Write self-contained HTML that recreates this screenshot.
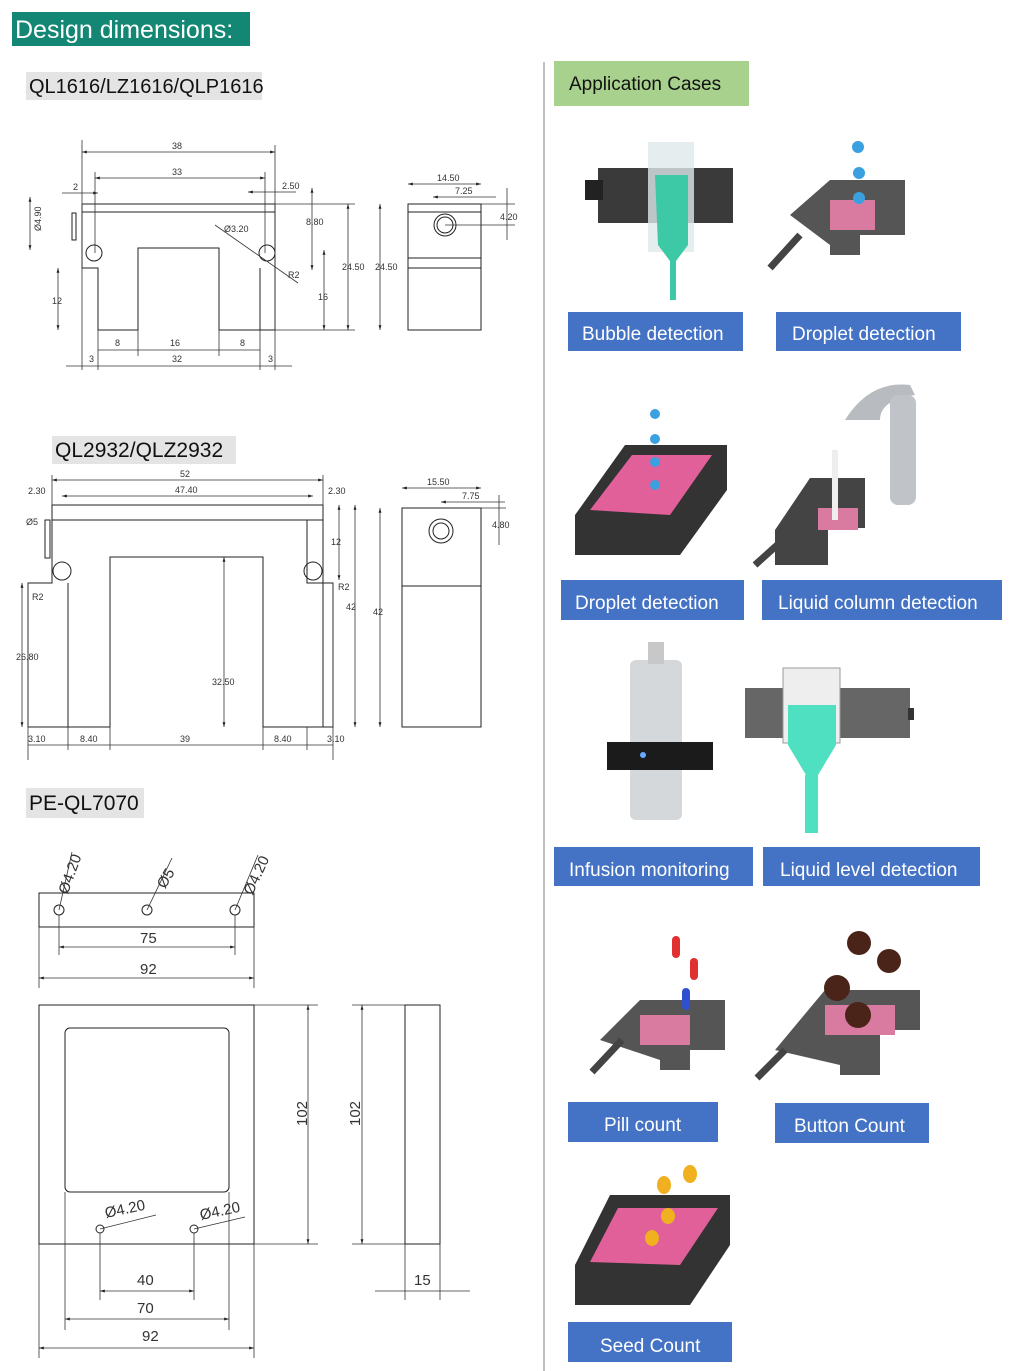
<!DOCTYPE html>
<html><head><meta charset="utf-8">
<style>
body{margin:0;background:#fff;}
svg{display:block;font-family:"Liberation Sans",sans-serif;}
.l{stroke:#222;stroke-width:1;fill:none}
.d{stroke:#333;stroke-width:0.8;fill:none}
.t{font-size:9px;fill:#333}
.t2{font-size:15px;fill:#333}
.lab{font-size:19px;fill:#fff}
</style></head><body>
<svg width="1024" height="1371" viewBox="0 0 1024 1371" xmlns="http://www.w3.org/2000/svg">
<defs><marker id="a" viewBox="0 0 10 10" refX="10" refY="5" markerWidth="6" markerHeight="6" orient="auto-start-reverse"><path d="M0,2L10,5L0,8z" fill="#222"/></marker></defs>
<rect width="1024" height="1371" fill="#fff"/>
<!-- header -->
<rect x="12" y="12" width="238" height="34" fill="#138774"/>
<text x="15" y="38" font-size="25" fill="#fff">Design dimensions:</text>
<rect x="26" y="72" width="236" height="28" fill="#e4e4e4"/>
<text x="29" y="93" font-size="20" fill="#111">QL1616/LZ1616/QLP1616</text>
<rect x="52" y="436" width="184" height="28" fill="#e4e4e4"/>
<text x="55" y="457" font-size="21" fill="#111">QL2932/QLZ2932</text>
<rect x="26" y="788" width="118" height="30" fill="#e4e4e4"/>
<text x="29" y="810" font-size="21" fill="#111">PE-QL7070</text>
<line x1="544" y1="62" x2="544" y2="1371" stroke="#aaa" stroke-width="1.5"/>

<!-- drawing 1 -->
<g>
<path class="l" d="M82,204H275V330H260V268M82,204V268H98V330H138V248H219V330H260M82,212H275M98,330"/>
<circle class="l" cx="94" cy="253" r="8"/><circle class="l" cx="267" cy="253" r="8"/>
<rect class="l" x="72" y="213" width="4" height="27"/>
<line class="d" x1="82" y1="140" x2="82" y2="370"/><line class="d" x1="275" y1="145" x2="275" y2="370"/>
<line class="d" x1="82" y1="152" x2="275" y2="152" marker-start="url(#a)" marker-end="url(#a)"/><text class="t" x="172" y="149">38</text>
<line class="d" x1="95" y1="178" x2="265" y2="178" marker-start="url(#a)" marker-end="url(#a)"/><text class="t" x="172" y="175">33</text>
<line class="d" x1="95" y1="172" x2="95" y2="253"/><line class="d" x1="265" y1="172" x2="265" y2="253"/>
<line class="d" x1="62" y1="193" x2="98" y2="193" marker-end="url(#a)"/><text class="t" x="73" y="190">2</text>
<line class="d" x1="248" y1="192" x2="296" y2="192" marker-start="url(#a)"/><text class="t" x="282" y="189">2.50</text>
<line class="d" x1="30" y1="197" x2="30" y2="250" marker-start="url(#a)" marker-end="url(#a)"/><text class="t" x="20" y="240" transform="rotate(-90 26 225)">Ø4.90</text>
<line class="d" x1="58" y1="268" x2="58" y2="330" marker-start="url(#a)" marker-end="url(#a)"/><text class="t" x="52" y="304">12</text>
<line class="d" x1="312" y1="188" x2="312" y2="270" marker-start="url(#a)" marker-end="url(#a)"/><text class="t" x="306" y="225">8.80</text>
<line class="d" x1="324" y1="250" x2="324" y2="330" marker-start="url(#a)" marker-end="url(#a)"/><text class="t" x="318" y="300">16</text>
<line class="d" x1="348" y1="204" x2="348" y2="330" marker-start="url(#a)" marker-end="url(#a)"/><text class="t" x="342" y="270">24.50</text>
<line class="d" x1="275" y1="204" x2="355" y2="204"/><line class="d" x1="275" y1="330" x2="355" y2="330"/>
<line class="d" x1="215" y1="225" x2="298" y2="283"/><text class="t" x="224" y="232">Ø3.20</text><text class="t" x="288" y="278">R2</text>
<line class="d" x1="98" y1="350" x2="260" y2="350"/><text class="t" x="115" y="346">8</text><text class="t" x="170" y="346">16</text><text class="t" x="240" y="346">8</text>
<line class="d" x1="66" y1="366" x2="292" y2="366"/><text class="t" x="89" y="362">3</text><text class="t" x="172" y="362">32</text><text class="t" x="268" y="362">3</text>
<line class="d" x1="98" y1="330" x2="98" y2="370"/><line class="d" x1="260" y1="330" x2="260" y2="370"/><line class="d" x1="138" y1="330" x2="138" y2="356"/><line class="d" x1="219" y1="330" x2="219" y2="356"/>
<!-- side -->
<rect class="l" x="408" y="204" width="73" height="126"/>
<line class="l" x1="408" y1="212" x2="481" y2="212"/><line class="l" x1="408" y1="258" x2="481" y2="258"/><line class="l" x1="408" y1="268" x2="481" y2="268"/>
<circle class="l" cx="445" cy="225" r="11"/><circle class="l" cx="445" cy="225" r="8"/>
<line class="d" x1="408" y1="184" x2="481" y2="184" marker-start="url(#a)" marker-end="url(#a)"/><text class="t" x="437" y="181">14.50</text>
<line class="d" x1="433" y1="197" x2="496" y2="197" marker-start="url(#a)"/><text class="t" x="455" y="194">7.25</text>
<line class="d" x1="380" y1="204" x2="380" y2="330" marker-start="url(#a)" marker-end="url(#a)"/><text class="t" x="375" y="270">24.50</text>
<line class="d" x1="507" y1="188" x2="507" y2="240"/><text class="t" x="500" y="220">4.20</text>
<line class="d" x1="481" y1="204" x2="515" y2="204"/><line class="d" x1="445" y1="225" x2="515" y2="225"/>
</g>

<!-- drawing 2 -->
<g>
<path class="l" d="M52,505H323V727H333V583H307V520M52,505V583H28V727H68V583M52,520H323M68,727H110V557H263V727H307"/>
<path class="l" d="M307,727H333"/>
<circle class="l" cx="62" cy="571" r="9"/><circle class="l" cx="313" cy="571" r="9"/>
<rect class="l" x="45" y="520" width="5" height="38"/>
<line class="d" x1="52" y1="480" x2="323" y2="480" marker-start="url(#a)" marker-end="url(#a)"/><text class="t" x="180" y="477">52</text>
<line class="d" x1="62" y1="496" x2="313" y2="496" marker-start="url(#a)" marker-end="url(#a)"/><text class="t" x="175" y="493">47.40</text>
<text class="t" x="28" y="494">2.30</text><text class="t" x="328" y="494">2.30</text>
<line class="d" x1="52" y1="475" x2="52" y2="505"/><line class="d" x1="323" y1="475" x2="323" y2="505"/>
<line class="d" x1="28" y1="583" x2="28" y2="760"/><line class="d" x1="333" y1="583" x2="333" y2="760"/>
<line class="d" x1="22" y1="583" x2="22" y2="727" marker-start="url(#a)" marker-end="url(#a)"/><text class="t" x="16" y="660">26.80</text>
<line class="d" x1="224" y1="557" x2="224" y2="727" marker-start="url(#a)" marker-end="url(#a)"/><text class="t" x="212" y="685">32.50</text>
<line class="d" x1="339" y1="505" x2="339" y2="580" marker-start="url(#a)" marker-end="url(#a)"/><text class="t" x="331" y="545">12</text>
<line class="d" x1="355" y1="505" x2="355" y2="727" marker-start="url(#a)" marker-end="url(#a)"/><text class="t" x="346" y="610">42</text>
<text class="t" x="26" y="525">Ø5</text><text class="t" x="32" y="600">R2</text><text class="t" x="338" y="590">R2</text>
<line class="d" x1="28" y1="745" x2="333" y2="745"/>
<text class="t" x="28" y="742">3.10</text><text class="t" x="80" y="742">8.40</text><text class="t" x="180" y="742">39</text><text class="t" x="274" y="742">8.40</text><text class="t" x="327" y="742">3.10</text>
<line class="d" x1="68" y1="727" x2="68" y2="750"/><line class="d" x1="110" y1="727" x2="110" y2="750"/><line class="d" x1="263" y1="727" x2="263" y2="750"/><line class="d" x1="307" y1="727" x2="307" y2="750"/>
<rect class="l" x="402" y="508" width="79" height="219"/>
<line class="l" x1="402" y1="586" x2="481" y2="586"/>
<circle class="l" cx="441" cy="531" r="12"/><circle class="l" cx="441" cy="531" r="8"/>
<line class="d" x1="402" y1="488" x2="481" y2="488" marker-start="url(#a)" marker-end="url(#a)"/><text class="t" x="427" y="485">15.50</text>
<line class="d" x1="441" y1="502" x2="505" y2="502" marker-start="url(#a)"/><text class="t" x="462" y="499">7.75</text>
<line class="d" x1="380" y1="508" x2="380" y2="727" marker-start="url(#a)" marker-end="url(#a)"/><text class="t" x="373" y="615">42</text>
<line class="d" x1="499" y1="495" x2="499" y2="545"/><text class="t" x="492" y="528">4.80</text>
<line class="d" x1="481" y1="508" x2="506" y2="508"/>
</g>

<!-- drawing 3 -->
<g>
<rect class="l" x="39" y="893" width="215" height="34"/>
<circle class="l" cx="59" cy="910" r="5"/><circle class="l" cx="147" cy="910" r="5"/><circle class="l" cx="235" cy="910" r="5"/>
<line class="d" x1="59" y1="910" x2="72" y2="852"/><line class="d" x1="147" y1="910" x2="172" y2="858"/><line class="d" x1="235" y1="910" x2="258" y2="855"/>
<text class="t2" x="46" y="896" transform="rotate(-70 56 880)">Ø4.20</text>
<text class="t2" x="148" y="890" transform="rotate(-60 156 875)">Ø5</text>
<text class="t2" x="232" y="896" transform="rotate(-65 242 880)">Ø4.20</text>
<line class="d" x1="59" y1="915" x2="59" y2="955"/><line class="d" x1="235" y1="915" x2="235" y2="955"/>
<line class="d" x1="59" y1="947" x2="235" y2="947" marker-start="url(#a)" marker-end="url(#a)"/><text class="t2" x="140" y="943">75</text>
<line class="d" x1="39" y1="927" x2="39" y2="988"/><line class="d" x1="254" y1="927" x2="254" y2="988"/>
<line class="d" x1="39" y1="978" x2="254" y2="978" marker-start="url(#a)" marker-end="url(#a)"/><text class="t2" x="140" y="974">92</text>
<rect class="l" x="39" y="1005" width="215" height="239"/>
<rect class="l" x="65" y="1028" width="164" height="164" rx="5"/>
<circle class="l" cx="100" cy="1229" r="4"/><circle class="l" cx="194" cy="1229" r="4"/>
<line class="d" x1="100" y1="1229" x2="156" y2="1215"/><line class="d" x1="194" y1="1229" x2="245" y2="1217"/>
<text class="t2" x="106" y="1218" transform="rotate(-12 106 1218)">Ø4.20</text>
<text class="t2" x="201" y="1220" transform="rotate(-12 201 1220)">Ø4.20</text>
<line class="d" x1="254" y1="1005" x2="318" y2="1005"/><line class="d" x1="254" y1="1244" x2="318" y2="1244"/>
<line class="d" x1="308" y1="1005" x2="308" y2="1244" marker-start="url(#a)" marker-end="url(#a)"/><text class="t2" x="303" y="1142" transform="rotate(-90 297 1132)">102</text>
<line class="d" x1="100" y1="1233" x2="100" y2="1300"/><line class="d" x1="194" y1="1233" x2="194" y2="1300"/>
<line class="d" x1="100" y1="1291" x2="194" y2="1291" marker-start="url(#a)" marker-end="url(#a)"/><text class="t2" x="137" y="1285">40</text>
<line class="d" x1="65" y1="1192" x2="65" y2="1330"/><line class="d" x1="229" y1="1192" x2="229" y2="1330"/>
<line class="d" x1="65" y1="1319" x2="229" y2="1319" marker-start="url(#a)" marker-end="url(#a)"/><text class="t2" x="137" y="1313">70</text>
<line class="d" x1="39" y1="1244" x2="39" y2="1358"/><line class="d" x1="254" y1="1244" x2="254" y2="1358"/>
<line class="d" x1="39" y1="1348" x2="254" y2="1348" marker-start="url(#a)" marker-end="url(#a)"/><text class="t2" x="142" y="1341">92</text>
<rect class="l" x="405" y="1005" width="35" height="239"/>
<line class="d" x1="352" y1="1005" x2="405" y2="1005"/><line class="d" x1="352" y1="1244" x2="405" y2="1244"/>
<line class="d" x1="362" y1="1005" x2="362" y2="1244" marker-start="url(#a)" marker-end="url(#a)"/><text class="t2" x="356" y="1142" transform="rotate(-90 350 1132)">102</text>
<line class="d" x1="405" y1="1244" x2="405" y2="1300"/><line class="d" x1="440" y1="1244" x2="440" y2="1300"/>
<line class="d" x1="375" y1="1291" x2="470" y2="1291"/><text class="t2" x="414" y="1285">15</text>
</g>

<!-- right side -->
<rect x="554" y="61" width="195" height="45" fill="#a9d18e"/>
<text x="569" y="90" font-size="19" fill="#111">Application Cases</text>

<g fill="#4472c4">
<rect x="568" y="312" width="175" height="39"/><rect x="776" y="312" width="185" height="39"/>
<rect x="561" y="580" width="183" height="40"/><rect x="762" y="580" width="240" height="40"/>
<rect x="554" y="847" width="199" height="39"/><rect x="763" y="847" width="217" height="39"/>
<rect x="568" y="1102" width="150" height="40"/><rect x="775" y="1103" width="154" height="40"/>
<rect x="568" y="1322" width="164" height="40"/>
</g>
<g class="lab">
<text x="582" y="340">Bubble detection</text><text x="792" y="340">Droplet detection</text>
<text x="575" y="609">Droplet detection</text><text x="778" y="609">Liquid column detection</text>
<text x="569" y="876">Infusion monitoring</text><text x="780" y="876">Liquid level detection</text>
<text x="604" y="1131">Pill count</text><text x="794" y="1132">Button Count</text>
<text x="600" y="1352">Seed Count</text>
</g>

<!-- illustrations -->
<!-- bubble -->
<rect x="598" y="168" width="135" height="55" fill="#3a3a3a"/>
<rect x="648" y="142" width="46" height="110" fill="#e0e8ea" opacity="0.8"/>
<path d="M655,175H688V245L673,265L658,245Z" fill="#3ec9a6"/>
<rect x="670" y="260" width="6" height="40" fill="#3ec9a6"/>
<rect x="585" y="180" width="18" height="20" fill="#222"/>
<!-- droplet 1 -->
<path d="M790,215L830,180H905V235H860V255H830V245Z" fill="#555"/>
<rect x="830" y="200" width="45" height="30" fill="#d97ba0"/>
<line x1="770" y1="268" x2="800" y2="235" stroke="#444" stroke-width="7"/>
<circle cx="858" cy="147" r="6" fill="#3aa0e0"/><circle cx="859" cy="173" r="6" fill="#3aa0e0"/><circle cx="859" cy="198" r="6" fill="#3aa0e0"/>
<!-- droplet 2 (square frame) -->
<path d="M575,515L625,445H727V490L680,555H575Z" fill="#333"/>
<path d="M590,510L632,455H712L670,515Z" fill="#e2609a"/>
<circle cx="655" cy="414" r="5" fill="#3aa0e0"/><circle cx="655" cy="439" r="5" fill="#3aa0e0"/><circle cx="655" cy="462" r="5" fill="#3aa0e0"/><circle cx="655" cy="485" r="5" fill="#3aa0e0"/>
<!-- liquid column -->
<path d="M775,530L810,478H865V528H828V565H775Z" fill="#444"/>
<rect x="818" y="508" width="40" height="22" fill="#d97ba0"/>
<line x1="755" y1="565" x2="785" y2="538" stroke="#444" stroke-width="7"/>
<path d="M845,420Q870,380 910,385L915,395Q880,400 880,420Z" fill="#b8bcc0"/>
<rect x="890" y="395" width="26" height="110" rx="8" fill="#c0c4c8"/>
<rect x="832" y="450" width="6" height="70" fill="#eee"/>
<!-- infusion -->
<rect x="630" y="660" width="52" height="160" rx="6" fill="#d4d8da"/>
<rect x="648" y="642" width="16" height="22" fill="#c8c8c8"/>
<rect x="607" y="742" width="106" height="28" fill="#1b1b1b"/>
<circle cx="643" cy="755" r="3" fill="#6af"/>
<!-- liquid level -->
<rect x="745" y="688" width="165" height="50" fill="#666"/>
<rect x="783" y="668" width="57" height="75" fill="#eee" stroke="#999"/>
<rect x="788" y="705" width="48" height="40" fill="#4ee0c0"/>
<path d="M788,745H836L818,775H806Z" fill="#4ee0c0"/>
<rect x="805" y="775" width="13" height="58" fill="#4ee0c0"/>
<rect x="908" y="708" width="6" height="12" fill="#333"/>
<!-- pill -->
<path d="M600,1040L640,1000H725V1050H690V1070H660V1060Z" fill="#555"/>
<rect x="640" y="1015" width="50" height="30" fill="#d97ba0"/>
<line x1="592" y1="1072" x2="622" y2="1040" stroke="#444" stroke-width="7"/>
<rect x="672" y="936" width="8" height="22" rx="4" fill="#e03030"/><rect x="690" y="958" width="8" height="22" rx="4" fill="#e03030"/><rect x="682" y="988" width="8" height="22" rx="4" fill="#3050d0"/>
<!-- button -->
<path d="M775,1050L825,990H920V1030H880V1075H840V1065Z" fill="#555"/>
<rect x="825" y="1005" width="70" height="30" fill="#d97ba0"/>
<line x1="757" y1="1078" x2="785" y2="1050" stroke="#444" stroke-width="7"/>
<circle cx="859" cy="943" r="12" fill="#4a2418"/><circle cx="889" cy="961" r="12" fill="#4a2418"/><circle cx="837" cy="988" r="13" fill="#4a2418"/><circle cx="858" cy="1015" r="13" fill="#4a2418"/>
<!-- seed -->
<path d="M575,1265L610,1195H730V1245L690,1305H575Z" fill="#333"/>
<path d="M590,1262L618,1208H718L680,1265Z" fill="#e2609a"/>
<ellipse cx="664" cy="1185" rx="7" ry="9" fill="#f0b020"/><ellipse cx="690" cy="1174" rx="7" ry="9" fill="#f0b020"/><ellipse cx="668" cy="1216" rx="7" ry="8" fill="#f0b020"/><ellipse cx="652" cy="1238" rx="7" ry="8" fill="#f0b020"/>
</svg>
</body></html>
